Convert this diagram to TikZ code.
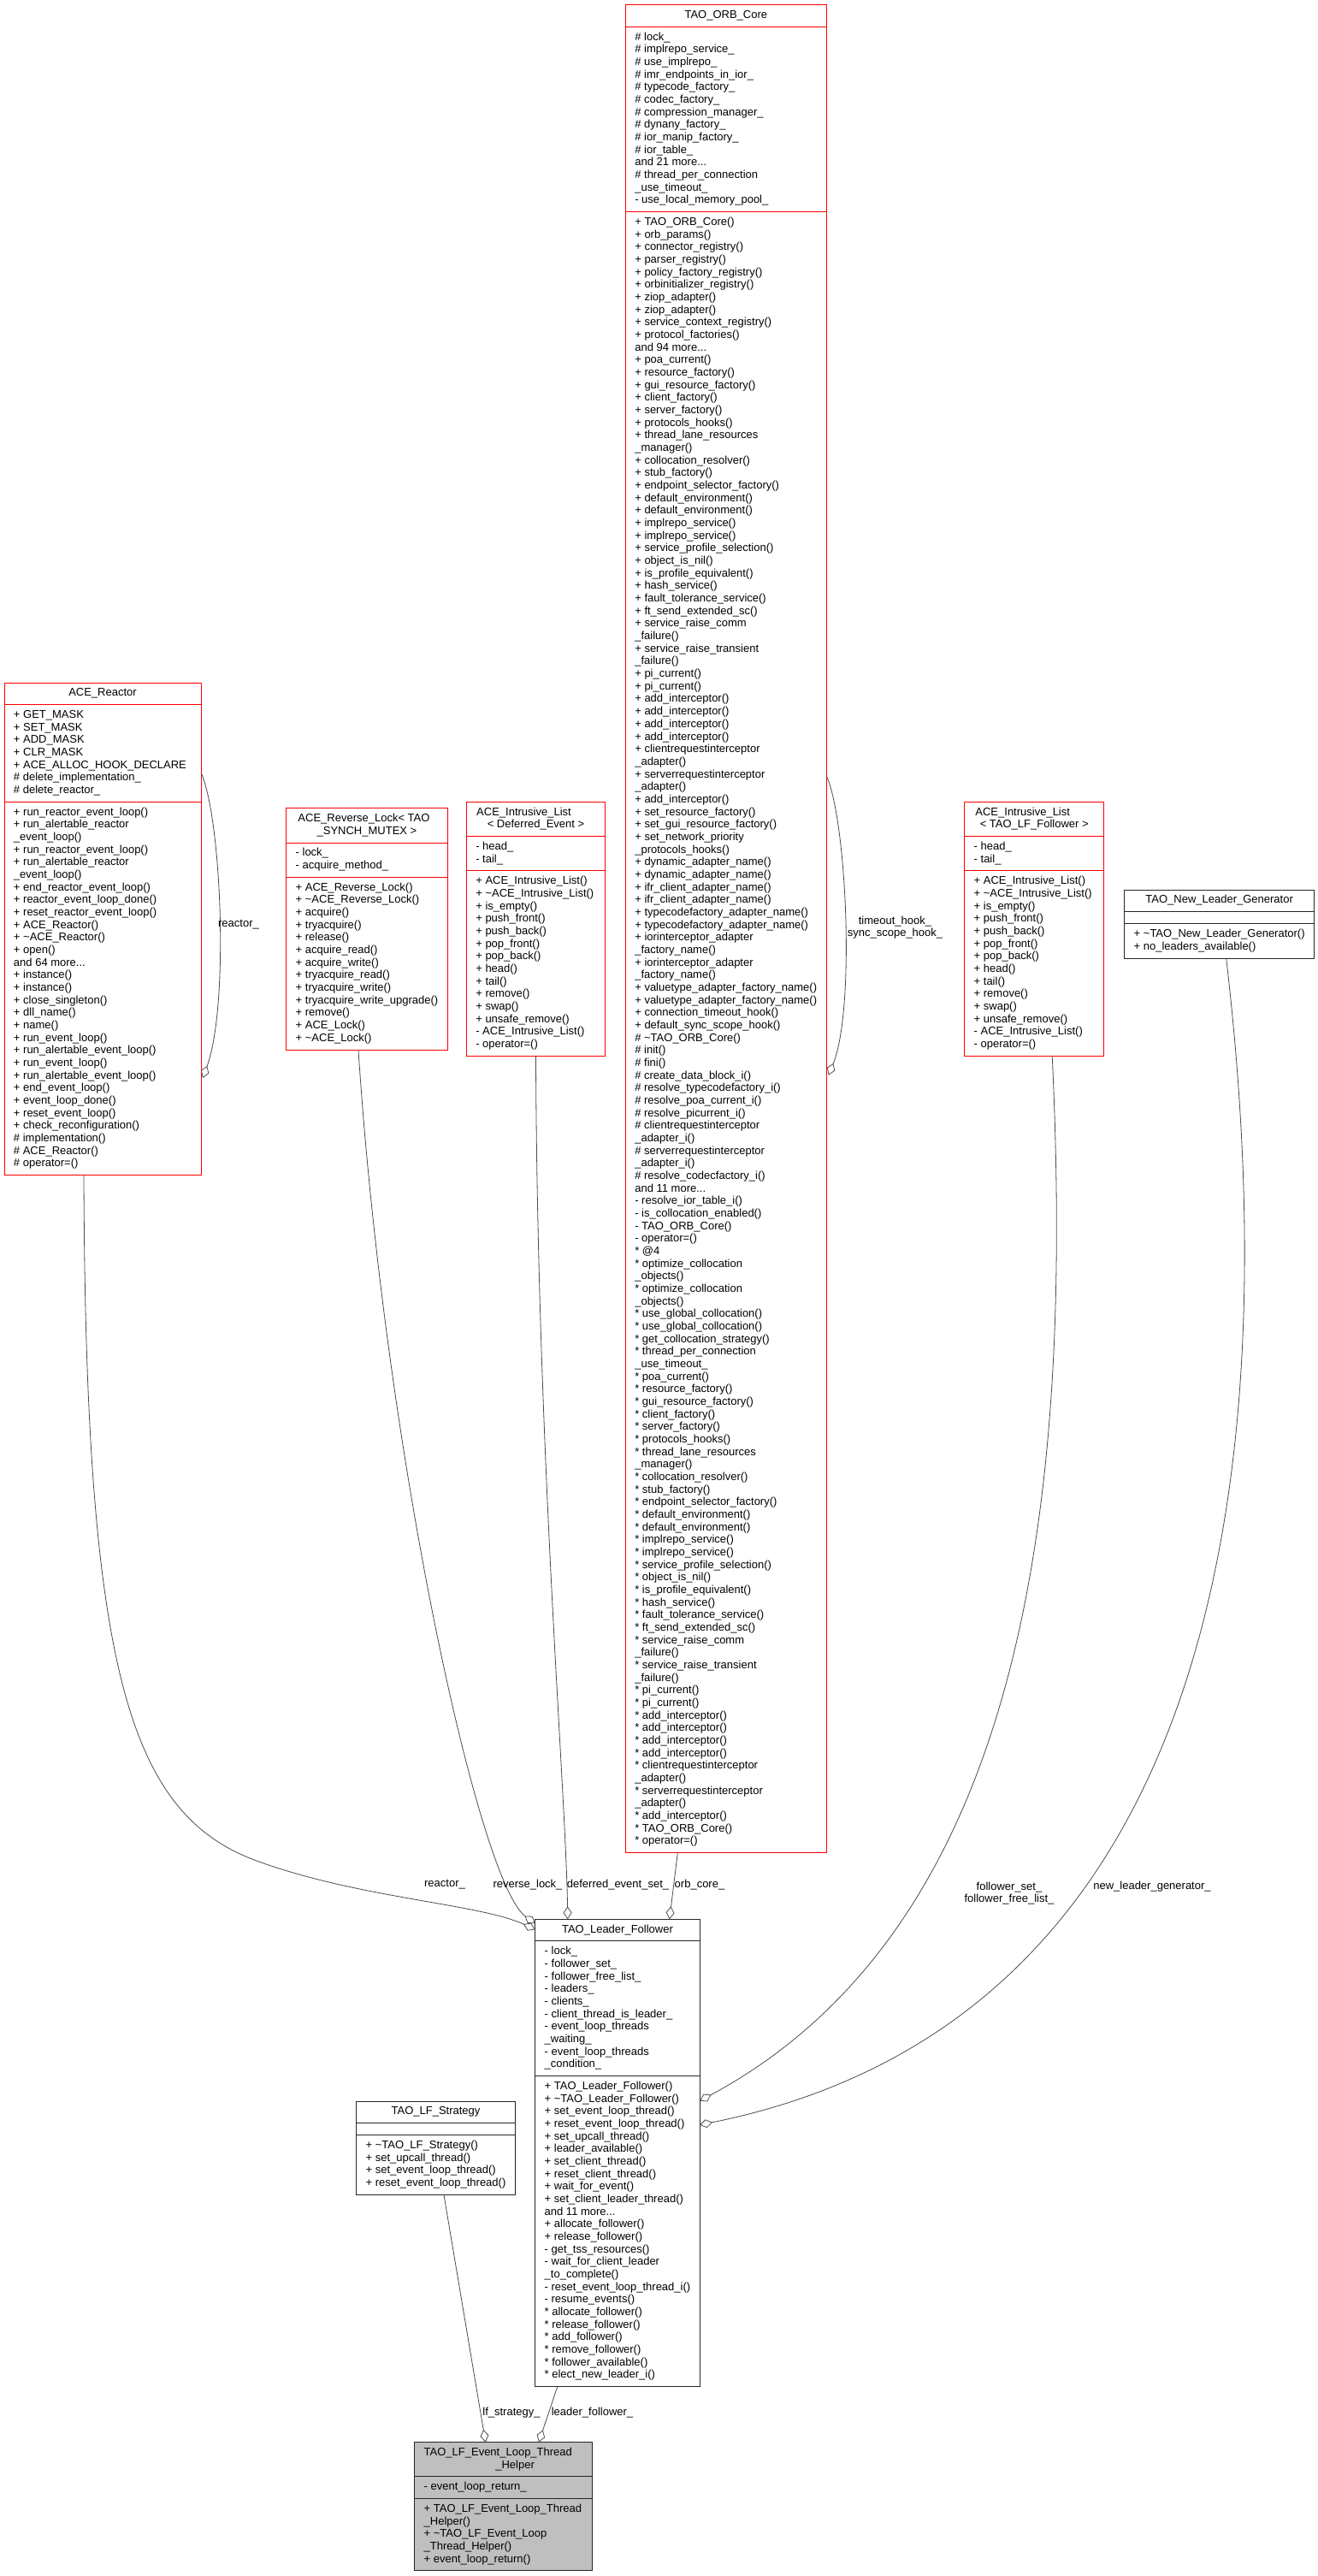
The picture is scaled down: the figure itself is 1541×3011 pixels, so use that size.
\documentclass[tikz,border=0pt]{standalone}
\usepackage{fontspec}
\setmainfont{Liberation Sans}
\usetikzlibrary{shapes.multipart,arrows.meta,calc}

% one row per member, so no line gets broken
\newcommand{\memberlist}[1]{\begin{tabular}{@{}l@{}}#1\end{tabular}}
\newcommand{\classname}[1]{\begin{tabular}{@{}c@{}}#1\end{tabular}}
\newcommand{\dtor}{\textasciitilde}

\begin{document}
\begin{tikzpicture}[x=1pt,y=-1pt,
    every node/.style={font=\fontsize{13}{14.67}\selectfont, inner sep=0pt, outer sep=0pt},
    umlclass/.style={rectangle split, rectangle split parts=3,
      rectangle split part align={center,left,left},
      draw=red, line width=1pt, inner xsep=11pt, inner ysep=5pt, anchor=north west},
    plainclass/.style={umlclass, draw=black!85},
    agg/.style={draw=black!70, line width=0.8pt, -{Diamond[open,length=15pt,width=10pt]}},
    role/.style={align=center}]
      \useasboundingbox (0,0) rectangle (1541,3011);

      % TAO_ORB_Core
      \node[umlclass, minimum width=235] (orb) at (731.3,5.7) {\classname{TAO\_ORB\_Core}
        \nodepart{two}\memberlist{\# lock\_\\\# implrepo\_service\_\\\# use\_implrepo\_\\\# imr\_endpoints\_in\_ior\_\\\# typecode\_factory\_\\\# codec\_factory\_\\\# compression\_manager\_\\\# dynany\_factory\_\\\# ior\_manip\_factory\_\\\# ior\_table\_\\and 21 more...\\\# thread\_per\_connection\\\_use\_timeout\_\\- use\_local\_memory\_pool\_}
        \nodepart{three}\memberlist{+ TAO\_ORB\_Core()\\+ orb\_params()\\+ connector\_registry()\\+ parser\_registry()\\+ policy\_factory\_registry()\\+ orbinitializer\_registry()\\+ ziop\_adapter()\\+ ziop\_adapter()\\+ service\_context\_registry()\\+ protocol\_factories()\\and 94 more...\\+ poa\_current()\\+ resource\_factory()\\+ gui\_resource\_factory()\\+ client\_factory()\\+ server\_factory()\\+ protocols\_hooks()\\+ thread\_lane\_resources\\\_manager()\\+ collocation\_resolver()\\+ stub\_factory()\\+ endpoint\_selector\_factory()\\+ default\_environment()\\+ default\_environment()\\+ implrepo\_service()\\+ implrepo\_service()\\+ service\_profile\_selection()\\+ object\_is\_nil()\\+ is\_profile\_equivalent()\\+ hash\_service()\\+ fault\_tolerance\_service()\\+ ft\_send\_extended\_sc()\\+ service\_raise\_comm\\\_failure()\\+ service\_raise\_transient\\\_failure()\\+ pi\_current()\\+ pi\_current()\\+ add\_interceptor()\\+ add\_interceptor()\\+ add\_interceptor()\\+ add\_interceptor()\\+ clientrequestinterceptor\\\_adapter()\\+ serverrequestinterceptor\\\_adapter()\\+ add\_interceptor()\\+ set\_resource\_factory()\\+ set\_gui\_resource\_factory()\\+ set\_network\_priority\\\_protocols\_hooks()\\+ dynamic\_adapter\_name()\\+ dynamic\_adapter\_name()\\+ ifr\_client\_adapter\_name()\\+ ifr\_client\_adapter\_name()\\+ typecodefactory\_adapter\_name()\\+ typecodefactory\_adapter\_name()\\+ iorinterceptor\_adapter\\\_factory\_name()\\+ iorinterceptor\_adapter\\\_factory\_name()\\+ valuetype\_adapter\_factory\_name()\\+ valuetype\_adapter\_factory\_name()\\+ connection\_timeout\_hook()\\+ default\_sync\_scope\_hook()\\\# \dtor TAO\_ORB\_Core()\\\# init()\\\# fini()\\\# create\_data\_block\_i()\\\# resolve\_typecodefactory\_i()\\\# resolve\_poa\_current\_i()\\\# resolve\_picurrent\_i()\\\# clientrequestinterceptor\\\_adapter\_i()\\\# serverrequestinterceptor\\\_adapter\_i()\\\# resolve\_codecfactory\_i()\\and 11 more...\\- resolve\_ior\_table\_i()\\- is\_collocation\_enabled()\\- TAO\_ORB\_Core()\\- operator=()\\{*} @4\\{*} optimize\_collocation\\\_objects()\\{*} optimize\_collocation\\\_objects()\\{*} use\_global\_collocation()\\{*} use\_global\_collocation()\\{*} get\_collocation\_strategy()\\{*} thread\_per\_connection\\\_use\_timeout\_\\{*} poa\_current()\\{*} resource\_factory()\\{*} gui\_resource\_factory()\\{*} client\_factory()\\{*} server\_factory()\\{*} protocols\_hooks()\\{*} thread\_lane\_resources\\\_manager()\\{*} collocation\_resolver()\\{*} stub\_factory()\\{*} endpoint\_selector\_factory()\\{*} default\_environment()\\{*} default\_environment()\\{*} implrepo\_service()\\{*} implrepo\_service()\\{*} service\_profile\_selection()\\{*} object\_is\_nil()\\{*} is\_profile\_equivalent()\\{*} hash\_service()\\{*} fault\_tolerance\_service()\\{*} ft\_send\_extended\_sc()\\{*} service\_raise\_comm\\\_failure()\\{*} service\_raise\_transient\\\_failure()\\{*} pi\_current()\\{*} pi\_current()\\{*} add\_interceptor()\\{*} add\_interceptor()\\{*} add\_interceptor()\\{*} add\_interceptor()\\{*} clientrequestinterceptor\\\_adapter()\\{*} serverrequestinterceptor\\\_adapter()\\{*} add\_interceptor()\\{*} TAO\_ORB\_Core()\\{*} operator=()}};

      % ACE_Reactor
      \node[umlclass, minimum width=230] (reactor) at (5,798) {\classname{ACE\_Reactor}
        \nodepart{two}\memberlist{+ GET\_MASK\\+ SET\_MASK\\+ ADD\_MASK\\+ CLR\_MASK\\+ ACE\_ALLOC\_HOOK\_DECLARE\\\# delete\_implementation\_\\\# delete\_reactor\_}
        \nodepart{three}\memberlist{+ run\_reactor\_event\_loop()\\+ run\_alertable\_reactor\\\_event\_loop()\\+ run\_reactor\_event\_loop()\\+ run\_alertable\_reactor\\\_event\_loop()\\+ end\_reactor\_event\_loop()\\+ reactor\_event\_loop\_done()\\+ reset\_reactor\_event\_loop()\\+ ACE\_Reactor()\\+ \dtor ACE\_Reactor()\\+ open()\\and 64 more...\\+ instance()\\+ instance()\\+ close\_singleton()\\+ dll\_name()\\+ name()\\+ run\_event\_loop()\\+ run\_alertable\_event\_loop()\\+ run\_event\_loop()\\+ run\_alertable\_event\_loop()\\+ end\_event\_loop()\\+ event\_loop\_done()\\+ reset\_event\_loop()\\+ check\_reconfiguration()\\\# implementation()\\\# ACE\_Reactor()\\\# operator=()}};

      % the lock and the two lists
      \node[umlclass, minimum width=186.3] (rlock) at (334.7,944.7) {\classname{ACE\_Reverse\_Lock< TAO\hspace*{7pt}\\\_SYNCH\_MUTEX >}
        \nodepart{two}\memberlist{- lock\_\\- acquire\_method\_}
        \nodepart{three}\memberlist{+ ACE\_Reverse\_Lock()\\+ \dtor ACE\_Reverse\_Lock()\\+ acquire()\\+ tryacquire()\\+ release()\\+ acquire\_read()\\+ acquire\_write()\\+ tryacquire\_read()\\+ tryacquire\_write()\\+ tryacquire\_write\_upgrade()\\+ remove()\\+ ACE\_Lock()\\+ \dtor ACE\_Lock()}};
      \node[umlclass, minimum width=162.4] (ildeferred) at (545.3,937.3) {\classname{ACE\_Intrusive\_List\hspace*{28pt}\\< Deferred\_Event >}
        \nodepart{two}\memberlist{- head\_\\- tail\_}
        \nodepart{three}\memberlist{+ ACE\_Intrusive\_List()\\+ \dtor ACE\_Intrusive\_List()\\+ is\_empty()\\+ push\_front()\\+ push\_back()\\+ pop\_front()\\+ pop\_back()\\+ head()\\+ tail()\\+ remove()\\+ swap()\\+ unsafe\_remove()\\- ACE\_Intrusive\_List()\\- operator=()}};
      \node[umlclass, minimum width=163] (ilfollower) at (1127.7,937.3) {\classname{ACE\_Intrusive\_List\hspace*{27pt}\\< TAO\_LF\_Follower >}
        \nodepart{two}\memberlist{- head\_\\- tail\_}
        \nodepart{three}\memberlist{+ ACE\_Intrusive\_List()\\+ \dtor ACE\_Intrusive\_List()\\+ is\_empty()\\+ push\_front()\\+ push\_back()\\+ pop\_front()\\+ pop\_back()\\+ head()\\+ tail()\\+ remove()\\+ swap()\\+ unsafe\_remove()\\- ACE\_Intrusive\_List()\\- operator=()}};
      \node[plainclass, minimum width=221.3] (nlg) at (1314.7,1040) {\classname{TAO\_New\_Leader\_Generator}
        \nodepart{two}\memberlist{}
        \nodepart{three}\memberlist{+ \dtor TAO\_New\_Leader\_Generator()\\+ no\_leaders\_available()}};

      % TAO_Leader_Follower
      \node[plainclass, minimum width=191] (lf) at (625.7,2243.3) {\classname{TAO\_Leader\_Follower}
        \nodepart{two}\memberlist{- lock\_\\- follower\_set\_\\- follower\_free\_list\_\\- leaders\_\\- clients\_\\- client\_thread\_is\_leader\_\\- event\_loop\_threads\\\_waiting\_\\- event\_loop\_threads\\\_condition\_}
        \nodepart{three}\memberlist{+ TAO\_Leader\_Follower()\\+ \dtor TAO\_Leader\_Follower()\\+ set\_event\_loop\_thread()\\+ reset\_event\_loop\_thread()\\+ set\_upcall\_thread()\\+ leader\_available()\\+ set\_client\_thread()\\+ reset\_client\_thread()\\+ wait\_for\_event()\\+ set\_client\_leader\_thread()\\and 11 more...\\+ allocate\_follower()\\+ release\_follower()\\- get\_tss\_resources()\\- wait\_for\_client\_leader\\\_to\_complete()\\- reset\_event\_loop\_thread\_i()\\- resume\_events()\\{*} allocate\_follower()\\{*} release\_follower()\\{*} add\_follower()\\{*} remove\_follower()\\{*} follower\_available()\\{*} elect\_new\_leader\_i()}};

      % strategy and helper
      \node[plainclass, minimum width=184.3] (lfstrategy) at (416.7,2456) {\classname{TAO\_LF\_Strategy}
        \nodepart{two}\memberlist{}
        \nodepart{three}\memberlist{+ \dtor TAO\_LF\_Strategy()\\+ set\_upcall\_thread()\\+ set\_event\_loop\_thread()\\+ reset\_event\_loop\_thread()}};
      \node[plainclass, minimum width=206.3, fill=black!25] (helper) at (484.7,2854.6) {\classname{TAO\_LF\_Event\_Loop\_Thread\hspace*{12.6pt}\\\hspace*{27pt}\_Helper}
        \nodepart{two}\memberlist{- event\_loop\_return\_}
        \nodepart{three}\memberlist{+ TAO\_LF\_Event\_Loop\_Thread\\\_Helper()\\+ \dtor TAO\_LF\_Event\_Loop\\\_Thread\_Helper()\\+ event\_loop\_return()}};

      % self loops
      \draw[agg] ($(reactor.north east)+(0,105)$) .. controls (259,956) and (268,1176) .. ($(reactor.north east)+(2,462)$);
      \node (lreactorself) at (279,1081) {reactor\_};
      \draw[agg] ($(orb.north east)+(0,901)$) .. controls (990,960) and (1000,1180) .. ($(orb.north east)+(2.4,1251)$);
      \node[role] (lhooks) at (1046.5,1084.2) {timeout\_hook\_\\sync\_scope\_hook\_};

      % members of TAO_Leader_Follower
      \draw[agg] ($(reactor.south)+(-22,0)$) .. controls (100,1950) and (150,2120) .. (300,2175)
        .. controls (420,2219) and (560,2225) .. ($(lf.north west)+(0,12)$);
      \draw[agg] ($(rlock.south)+(-10,0)$) .. controls (450,1700) and (560,2200) .. ($(lf.north west)+(0,5)$);
      \draw[agg] (ildeferred.south) .. controls (628,1700) and (662,2100) .. ($(lf.north west)+(38,0)$);
      \draw[agg] ($(orb.south west)+(61,0)$) -- ($(lf.north west)+(157,0)$);
      \draw[agg] ($(ilfollower.south)+(21,0)$) .. controls (1255,1750) and (1200,2250) .. ($(lf.north east)+(0,212.3)$);
      \draw[agg] ($(nlg.south)+(8,0)$) .. controls (1490,1600) and (1480,2350) .. ($(lf.north east)+(0,240.4)$);
      \node (lreactor) at (520,2203) {reactor\_};
      \node (lrlock) at (617,2203) {reverse\_lock\_};
      \node (ldeferred) at (722.5,2203) {deferred\_event\_set\_};
      \node (lorb) at (818,2203) {orb\_core\_};
      \node[role] (lfollower) at (1180,2213) {follower\_set\_\\follower\_free\_list\_};
      \node (lnlg) at (1347,2205) {new\_leader\_generator\_};

      % members of the helper
      \draw[agg] ($(lfstrategy.south)+(9.4,0)$) -- ($(helper.north west)+(83,0)$);
      \draw[agg] ($(lf.south west)+(26,0)$) -- ($(helper.north west)+(145.3,0)$);
      \node (lstrategy) at (598,2820) {lf\_strategy\_};
      \node (lleader) at (692.5,2820) {leader\_follower\_};
    \end{tikzpicture}
\end{document}
